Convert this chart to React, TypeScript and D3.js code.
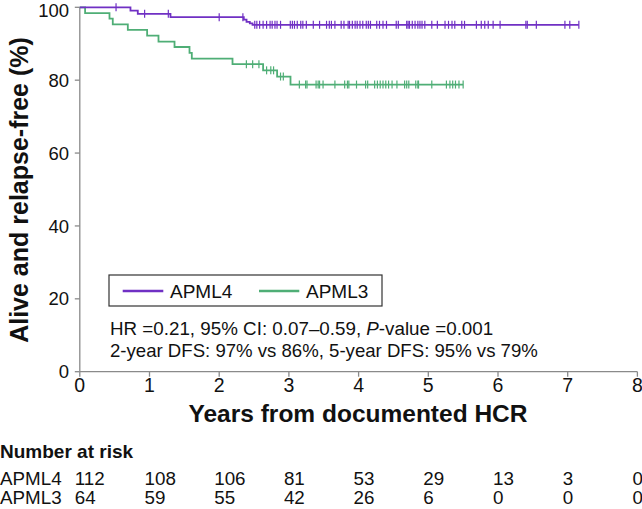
import React from "react";
import * as d3 from "d3";

const W = 642;
const H = 509;

const xTicks = [0, 1, 2, 3, 4, 5, 6, 7, 8];
const yTicks = [0, 20, 40, 60, 80, 100];

const apml4EventTimes = [0.727, 0.832, 1.301, 2.353, 2.392, 2.439, 2.478];
const apml4Surv = [99.1, 98.2, 97.3, 96.6, 96.0, 95.6, 95.2];
const apml4End = 7.16;
const apml4Censor = [
  0.52, 0.93, 1.27, 2.0, 2.34, 2.51, 2.54, 2.58, 2.63, 2.68, 2.73, 2.76, 2.8, 2.83, 2.88,
  3.02, 3.05, 3.08, 3.12, 3.17, 3.2, 3.25, 3.35, 3.44, 3.54, 3.58, 3.61, 3.66, 3.75, 3.79,
  3.85, 3.87, 3.91, 3.95, 3.98, 4.02, 4.06, 4.11, 4.14, 4.17, 4.26, 4.3, 4.35, 4.4, 4.54,
  4.57, 4.69, 4.71, 4.73, 4.77, 4.81, 4.85, 4.88, 4.91, 4.95, 5.05, 5.13, 5.24, 5.29, 5.34,
  5.38, 5.48, 5.52, 5.69, 5.76, 5.81, 5.86, 5.93, 6.03, 6.4, 6.42, 6.55, 6.96, 7.03, 7.16,
];

const apml3EventTimes = [0.076, 0.426, 0.473, 0.689, 0.966, 1.129, 1.359, 1.574, 1.607, 2.191, 2.63, 2.831, 3.023];
const apml3Surv = [98.4, 96.9, 95.3, 93.8, 92.2, 90.6, 89.1, 87.5, 85.9, 84.4, 82.7, 81.0, 78.8];
const apml3End = 5.5;
const apml3Censor = [
  2.39, 2.48, 2.57, 2.68, 2.74, 2.78, 2.88, 2.92, 3.15, 3.24, 3.26, 3.39, 3.42, 3.44, 3.49,
  3.66, 3.8, 3.84, 3.86, 3.97, 4.1, 4.13, 4.23, 4.27, 4.31, 4.35, 4.39, 4.43, 4.48, 4.55,
  4.66, 4.69, 4.72, 4.82, 4.85, 4.86, 5.05, 5.26, 5.31, 5.35, 5.39, 5.44, 5.5,
];

const groups = ["APML4", "APML3"];
const apml4Risk = [112, 108, 106, 81, 53, 29, 13, 3, 0];
const apml3Risk = [64, 59, 55, 42, 26, 6, 0, 0, 0];

const PURPLE = "#7030c4";
const GREEN = "#4fae76";
const AXIS = "#8a8a8a";
const FONT = "'Liberation Sans', Arial, Helvetica, sans-serif";

const x = d3.scaleLinear().domain([0, 8]).range([79.8, 637.4]);
const y = d3.scaleLinear().domain([0, 100]).range([371.7, 7.3]);

function curvePoints(times: number[], surv: number[], end: number): [number, number][] {
  const pts: [number, number][] = [[0, 100]];
  times.forEach((t, i) => pts.push([t, surv[i]]));
  pts.push([end, surv[surv.length - 1]]);
  return pts;
}

function survAt(times: number[], surv: number[], t: number): number {
  let s = 100;
  times.forEach((tt, i) => {
    if (tt <= t) s = surv[i];
  });
  return s;
}

const line = d3
  .line<[number, number]>()
  .x((d) => x(d[0]))
  .y((d) => y(d[1]))
  .curve(d3.curveStepAfter);

function Curve({ times, surv, end, censor, color }: any) {
  const pts = curvePoints(times, surv, end);
  return (
    <g>
      <path d={line(pts) || ""} fill="none" stroke={color} strokeWidth={1.8} />
      {censor.map((c: number, i: number) => {
        const s = survAt(times, surv, c);
        return (
          <line
            key={i}
            x1={x(c)}
            x2={x(c)}
            y1={y(s) - 4}
            y2={y(s) + 4}
            stroke={color}
            strokeWidth={1.2}
          />
        );
      })}
    </g>
  );
}

export default function App() {
  const riskRows = [apml4Risk, apml3Risk];
  const rowY = [485, 504];
  return (
    <svg
      width={W}
      height={H}
      style={{ position: "absolute", left: 0, top: 0, background: "#fff" }}
      fontFamily={FONT}
    >
      <rect x={0} y={0} width={W} height={H} fill="#fff" />
      {/* axes */}
      <line x1={x(0)} x2={x(0)} y1={y(0)} y2={y(100)} stroke={AXIS} strokeWidth={1.3} />
      <line x1={x(0)} x2={x(8)} y1={y(0)} y2={y(0)} stroke={AXIS} strokeWidth={1.3} />
      {yTicks.map((t) => (
        <g key={"y" + t}>
          <line x1={x(0) - 5} x2={x(0)} y1={y(t)} y2={y(t)} stroke={AXIS} strokeWidth={1.3} />
          <text x={69} y={Math.max(y(t), 10)} dy="0.36em" textAnchor="end" fontSize={18.5} fill="#111">
            {t}
          </text>
        </g>
      ))}
      {xTicks.map((t) => (
        <g key={"x" + t}>
          <line x1={x(t)} x2={x(t)} y1={y(0)} y2={y(0) + 5} stroke={AXIS} strokeWidth={1.3} />
          <text x={x(t)} y={392} textAnchor="middle" fontSize={19.5} fill="#111">
            {t}
          </text>
        </g>
      ))}
      {/* titles */}
      <text
        transform={`translate(28,190) rotate(-90)`}
        textAnchor="middle"
        fontSize={25}
        fontWeight="bold"
        fill="#111"
      >
        Alive and relapse-free (%)
      </text>
      <text x={358} y={422} textAnchor="middle" fontSize={24.5} fontWeight="bold" fill="#111">
        Years from documented HCR
      </text>

      {/* curves */}
      <Curve times={apml3EventTimes} surv={apml3Surv} end={apml3End} censor={apml3Censor} color={GREEN} />
      <Curve times={apml4EventTimes} surv={apml4Surv} end={apml4End} censor={apml4Censor} color={PURPLE} />

      {/* legend */}
      <rect x={109} y={275} width={273} height={31} fill="#fff" stroke="#333" strokeWidth={1.2} />
      <line x1={122.7} x2={163.3} y1={291} y2={291} stroke={PURPLE} strokeWidth={2.5} />
      <text x={170} y={298} fontSize={19} fill="#111">
        {groups[0]}
      </text>
      <line x1={259} x2={299.3} y1={291} y2={291} stroke={GREEN} strokeWidth={2.5} />
      <text x={306} y={298} fontSize={19} fill="#111">
        {groups[1]}
      </text>

      {/* annotation */}
      <text x={110} y={335} fontSize={18.8} fill="#111">
        HR =0.21, 95% CI: 0.07–0.59, <tspan fontStyle="italic">P</tspan>-value =0.001
      </text>
      <text x={110} y={357} fontSize={18.6} fill="#111">
        2-year DFS: 97% vs 86%, 5-year DFS: 95% vs 79%
      </text>

      {/* risk table */}
      <text x={0} y={457.5} fontSize={19} fontWeight="bold" fill="#111">
        Number at risk
      </text>
      {riskRows.map((row, r) => (
        <g key={"r" + r}>
          <text x={0} y={rowY[r]} fontSize={18.8} fill="#111">
            {groups[r]}
          </text>
          {row.map((v, i) => (
            <text key={i} x={x(xTicks[i]) - 5} y={rowY[r]} fontSize={18.8} fill="#111">
              {v}
            </text>
          ))}
        </g>
      ))}
    </svg>
  );
}
